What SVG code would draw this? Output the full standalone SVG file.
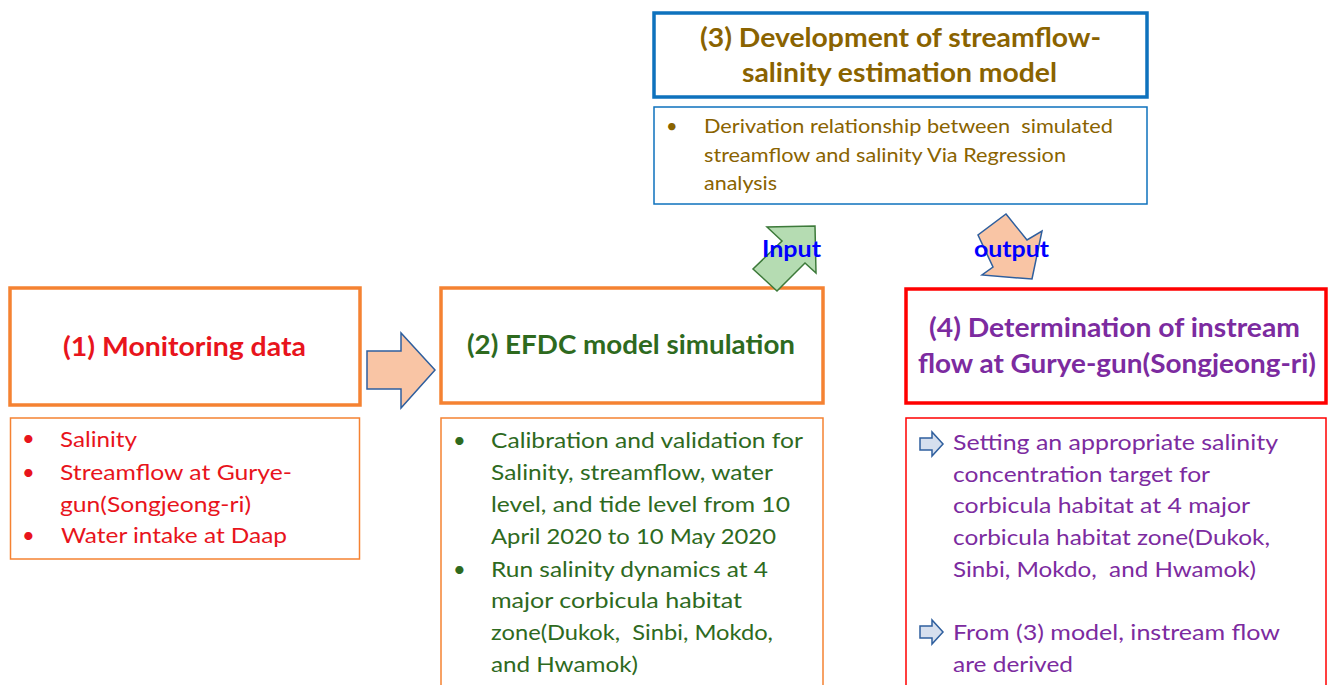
<svg xmlns="http://www.w3.org/2000/svg" width="1328" height="685" viewBox="0 0 1328 685">
<style>
text{font-family:Lato,"Open Sans","Liberation Sans",sans-serif}
.title{font-weight:bold;font-size:27px}
.item{font-size:22px}
.item3{font-size:20px}
.lbl{font-weight:bold;font-size:22px;fill:#0000ff}
.thick{fill:#fff;stroke-width:3.5}
.thin{fill:#fff;stroke-width:1.5}
.or{stroke:#f58232}
.bl{stroke:#0e72bd}
.rd{stroke:#ff0000}
.red{fill:#e8141c}
.grn{fill:#2e6a1e}
.brn{fill:#8a6300}
.pur{fill:#7c2ba0}
.peach{fill:#f9c5a5;stroke:#2f5f9e;stroke-width:1.5;stroke-linejoin:miter}
.green{fill:#b5dcb2;stroke:#3d7a3a;stroke-width:1.5}
.icon{fill:#d6dfee;stroke:#2f5f9e;stroke-width:1.5}
</style>
<rect width="1328" height="685" fill="#ffffff"/>

<g id="node1">
<rect class="thick or" x="10" y="288" width="350" height="117"/>
<text class="title red" x="63" y="356" textLength="243" lengthAdjust="spacingAndGlyphs">(1) Monitoring data</text>
</g>
<g id="node1-list">
<rect class="thin or" x="10.5" y="418" width="349" height="141"/>
<g class="item red">
<text x="22" y="446">•</text>
<text x="22" y="480">•</text>
<text x="22" y="543">•</text>
<text x="60" y="447" textLength="77" lengthAdjust="spacingAndGlyphs">Salinity</text>
<text x="60" y="480" textLength="232" lengthAdjust="spacingAndGlyphs">Streamflow at Gurye-</text>
<text x="60" y="512" textLength="191" lengthAdjust="spacingAndGlyphs">gun(Songjeong-ri)</text>
<text x="61" y="543" textLength="226" lengthAdjust="spacingAndGlyphs">Water intake at Daap</text>
</g>
</g>

<g id="node2">
<rect class="thick or" x="441" y="288" width="382" height="115"/>
<text class="title grn" x="467" y="354" textLength="328" lengthAdjust="spacingAndGlyphs">(2) EFDC model simulation</text>
</g>
<g id="node2-list">
<rect class="thin or" x="441" y="418" width="382" height="280"/>
<g class="item grn">
<text x="453" y="448">•</text>
<text x="453" y="577">•</text>
<text x="491" y="448" textLength="312" lengthAdjust="spacingAndGlyphs">Calibration and validation for</text>
<text x="491" y="480" textLength="282" lengthAdjust="spacingAndGlyphs">Salinity, streamflow, water</text>
<text x="491" y="512" textLength="299" lengthAdjust="spacingAndGlyphs">level, and tide level from 10</text>
<text x="491" y="544" textLength="285" lengthAdjust="spacingAndGlyphs">April 2020 to 10 May 2020</text>
<text x="491" y="577" textLength="277" lengthAdjust="spacingAndGlyphs">Run salinity dynamics at 4</text>
<text x="491" y="608" textLength="251" lengthAdjust="spacingAndGlyphs">major corbicula habitat</text>
<text x="491" y="640" textLength="282" lengthAdjust="spacingAndGlyphs" xml:space="preserve">zone(Dukok,  Sinbi, Mokdo,</text>
<text x="491" y="672" textLength="147" lengthAdjust="spacingAndGlyphs">and Hwamok)</text>
</g>
</g>

<g id="node3">
<rect class="thick bl" x="654" y="13" width="493" height="84"/>
<text class="title brn" x="700" y="47" textLength="401" lengthAdjust="spacingAndGlyphs">(3) Development of streamflow-</text>
<text class="title brn" x="742" y="82" textLength="315" lengthAdjust="spacingAndGlyphs">salinity estimation model</text>
</g>
<g id="node3-list">
<rect class="thin bl" x="654" y="107" width="493" height="97"/>
<g class="item3 brn">
<text x="666" y="133">•</text>
<text x="704" y="133" textLength="409" lengthAdjust="spacingAndGlyphs" xml:space="preserve">Derivation relationship between  simulated</text>
<text x="704" y="162" textLength="362" lengthAdjust="spacingAndGlyphs">streamflow and salinity Via Regression</text>
<text x="704" y="190" textLength="73" lengthAdjust="spacingAndGlyphs">analysis</text>
</g>
</g>

<g id="node4">
<rect class="thick rd" x="906" y="289" width="420" height="114"/>
<text class="title pur" x="929" y="337" textLength="371" lengthAdjust="spacingAndGlyphs">(4) Determination of instream</text>
<text class="title pur" x="918" y="373" textLength="398" lengthAdjust="spacingAndGlyphs">flow at Gurye-gun(Songjeong-ri)</text>
</g>
<g id="node4-list">
<rect class="thin rd" x="906" y="418" width="420" height="280"/>
<polygon class="icon" points="920,438 932,438 932,432 943,444 932,456 932,450 920,450"/>
<polygon class="icon" points="920,626 932,626 932,620 943,632 932,644 932,638 920,638"/>
<g class="item pur">
<text x="953" y="450" textLength="325" lengthAdjust="spacingAndGlyphs">Setting an appropriate salinity</text>
<text x="953" y="482" textLength="257" lengthAdjust="spacingAndGlyphs">concentration target for</text>
<text x="953" y="513" textLength="297" lengthAdjust="spacingAndGlyphs">corbicula habitat at 4 major</text>
<text x="953" y="545" textLength="317" lengthAdjust="spacingAndGlyphs">corbicula habitat zone(Dukok,</text>
<text x="953" y="577" textLength="303" lengthAdjust="spacingAndGlyphs" xml:space="preserve">Sinbi, Mokdo,  and Hwamok)</text>
<text x="953" y="640" textLength="327" lengthAdjust="spacingAndGlyphs">From (3) model, instream flow</text>
<text x="953" y="672" textLength="120" lengthAdjust="spacingAndGlyphs">are derived</text>
</g>
</g>

<g id="connectors">
<polygon class="peach" points="367,351 401,351 401,333 435,370 401,408 401,389 367,389"/>
<polygon class="green" points="815,226 816,273 805,263 777,291 753,269 782,241 767,227"/>
<polygon class="peach" points="1006,214 1027,240 1042,231 1032,279 982,275 993,267 978,235"/>
<text class="lbl" x="762" y="257" textLength="59" lengthAdjust="spacingAndGlyphs">Input</text>
<text class="lbl" x="974" y="257" textLength="75" lengthAdjust="spacingAndGlyphs">output</text>
</g>
</svg>
